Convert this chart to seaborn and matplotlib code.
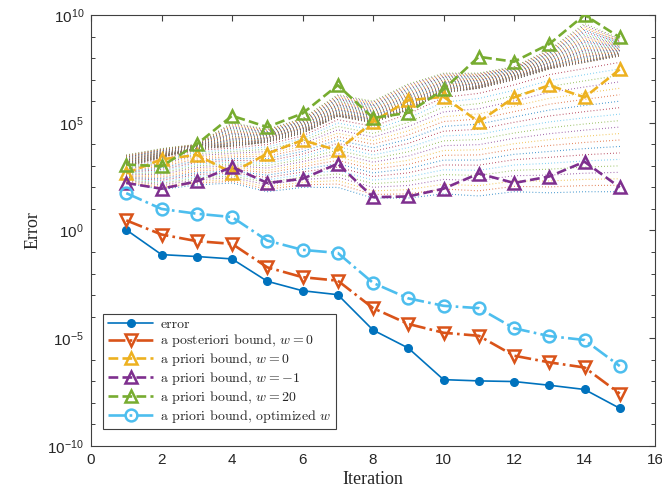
import numpy as np
import pandas as pd
import matplotlib
matplotlib.use("Agg")
import matplotlib.pyplot as plt
from matplotlib.font_manager import FontProperties
from matplotlib.ticker import FixedLocator, NullFormatter
import seaborn as sns

# ---------------------------------------------------------------- data
iterations = list(range(1, 16))

err = [1.07e0, 7.6e-2, 6.2e-2, 4.8e-2, 4.4e-3, 1.6e-3, 1.05e-3, 2.4e-5,
       3.5e-6, 1.2e-7, 1.05e-7, 9.8e-8, 6.6e-8, 4.2e-8, 5.6e-9]
post_w0 = [2.95e0, 6.5e-1, 3.2e-1, 2.4e-1, 1.95e-2, 6.8e-3, 4.7e-3, 2.5e-4,
           4.6e-5, 1.8e-5, 1.3e-5, 1.55e-6, 7.6e-7, 4.4e-7, 2.7e-8]
prior_w0 = [4.5e2, 2.0e3, 3.2e3, 4.8e2, 3.7e3, 1.55e4, 5.2e3, 1.1e5,
            1.1e6, 1.6e6, 1.1e5, 1.5e6, 5.5e6, 1.5e6, 3.0e7]
prior_wm1 = [1.6e2, 8.7e1, 1.9e2, 8.9e2, 1.6e2, 2.5e2, 1.26e3, 3.5e1,
             3.8e1, 8.7e1, 4.4e2, 1.6e2, 3.2e2, 1.55e3, 1.0e2]
prior_w20 = [1.15e3, 9.5e2, 1.0e4, 2.1e5, 6.3e4, 2.7e5, 5.5e6, 1.66e5,
             2.9e5, 3.5e6, 1.15e8, 6.8e7, 4.5e8, 1.0e10, 9.1e8]
prior_opt = [5.4e1, 1.0e1, 6.0e0, 4.2e0, 3.4e-1, 1.26e-1, 9.1e-2, 3.7e-3,
             7.1e-4, 3.2e-4, 2.5e-4, 2.9e-5, 1.26e-5, 8.3e-6, 5.1e-7]

# a priori bounds over the sweep of w: lower edge, dense ridge, upper edge
sweep_low = [1.6e2, 8.0e1, 1.3e2, 1.6e2, 6.3e1, 1.0e2, 1.0e2, 3.2e1,
             3.2e1, 5.0e1, 4.0e1, 6.3e1, 5.6e1, 6.3e1, 6.3e1]
sweep_ridge = [1.0e3, 2.5e3, 6.3e3, 8.0e3, 1.26e4, 3.2e4, 2.0e5, 1.0e5,
               4.0e5, 2.5e6, 4.0e6, 1.0e7, 3.2e7, 6.3e7, 1.26e8]
sweep_high = [3.2e3, 6.3e3, 1.0e4, 1.0e5, 5.0e4, 1.6e5, 2.0e6, 1.0e6,
              6.3e6, 2.0e7, 2.0e7, 4.0e7, 2.5e8, 4.0e9, 8.0e8]

series = [
    ("error", err),
    (r"a posteriori bound, $w=0$", post_w0),
    (r"a priori bound, $w=0$", prior_w0),
    (r"a priori bound, $w=-1$", prior_wm1),
    (r"a priori bound, $w=20$", prior_w20),
    (r"a priori bound, optimized $w$", prior_opt),
]

# ---------------------------------------------------------------- style
sns.set_style("white")
plt.rcParams["font.family"] = ["Liberation Sans", "DejaVu Sans"]
plt.rcParams["mathtext.fontset"] = "custom"
plt.rcParams["mathtext.rm"] = "Liberation Sans"
plt.rcParams["mathtext.it"] = "Liberation Sans:italic"

matlab = ["#0072BD", "#D95319", "#EDB120", "#7E2F8E", "#77AC30", "#4DBEEE", "#A2142F"]
axis_gray = "0.25"

styles = [
    dict(color=matlab[0], marker="o", linestyle="-", lw=1.2, ms=5.5, mfc=matlab[0]),
    dict(color=matlab[1], marker="v", linestyle="-.", lw=1.9, ms=9, mfc="none", mew=1.8),
    dict(color=matlab[2], marker="^", linestyle="--", lw=1.9, ms=9, mfc="none", mew=1.8),
    dict(color=matlab[3], marker="^", linestyle="--", lw=1.9, ms=9, mfc="none", mew=1.8),
    dict(color=matlab[4], marker="^", linestyle="--", lw=1.9, ms=9, mfc="none", mew=1.8),
    dict(color=matlab[5], marker="o", linestyle="-.", lw=1.9, ms=8.5, mfc="none", mew=1.8),
]

fig = plt.figure(figsize=(6.62, 4.96), dpi=100)
ax = fig.add_axes([0.1375, 0.1008, 0.852, 0.869])
ax.set_yscale("log")

# ------------------------------------------------- dotted family of bounds
lo = np.log10(sweep_low)
mid = np.log10(sweep_ridge)
hi = np.log10(sweep_high)
fractions_low = np.linspace(0.0, 1.0, 22)[:-1]
fractions_high = np.linspace(0.0, 1.0, 40) ** 1.8
family = [lo + (mid - lo) * f for f in fractions_low] + \
         [mid + (hi - mid) * f for f in fractions_high]
for k, curve in enumerate(family):
    ax.plot(iterations, 10.0 ** curve, linestyle=(0, (0.6, 2.2)), lw=0.8,
            color=matlab[k % len(matlab)], zorder=1)

# ------------------------------------------------------------ main series
for (label, values), st in zip(series, styles):
    df = pd.DataFrame({"Iteration": iterations, "Error": values})
    sns.lineplot(data=df, x="Iteration", y="Error", ax=ax, label=label,
                 color=st["color"], marker=st["marker"], linestyle=st["linestyle"],
                 linewidth=st["lw"], markersize=st["ms"],
                 markerfacecolor=st["mfc"], markeredgecolor=st["color"],
                 markeredgewidth=st.get("mew", 1.0), zorder=3)

# ------------------------------------------------------------------ axes
ax.set_xlim(0, 16)
ax.set_ylim(1e-10, 1e10)
ax.set_xticks(range(0, 17, 2))
ax.set_xticklabels([str(v) for v in range(0, 17, 2)])
major_y = [1e-10, 1e-5, 1e0, 1e5, 1e10]
ax.yaxis.set_major_locator(FixedLocator(major_y))
ax.set_yticklabels([r"$10^{-10}$", r"$10^{-5}$", r"$10^{0}$", r"$10^{5}$", r"$10^{10}$"])
ax.yaxis.set_minor_locator(FixedLocator([10.0 ** k for k in range(-10, 11) if k % 5]))
ax.yaxis.set_minor_formatter(NullFormatter())

ax.tick_params(axis="both", which="major", direction="in", length=4.5, width=0.8,
               color=axis_gray, labelcolor="0.15", labelsize=11, pad=5,
               top=True, right=True)
ax.tick_params(axis="y", which="minor", direction="in", length=3, width=0.7,
               color=axis_gray, left=True, right=True)
for sp in ax.spines.values():
    sp.set_color(axis_gray)
    sp.set_linewidth(0.8)
    sp.set_visible(True)

serif = ["Liberation Serif", "DejaVu Serif"]
ax.set_xlabel("Iteration", family=serif, fontsize=13, color="0.15", labelpad=3)
ax.set_ylabel("Error", family=serif, fontsize=13, color="0.15", labelpad=4)

legend_font = FontProperties(family="cmr10", math_fontfamily="cm", size=10)
leg = ax.legend(loc="lower left", bbox_to_anchor=(0.022, 0.04), prop=legend_font,
                frameon=True, fancybox=False, framealpha=1.0, edgecolor=axis_gray,
                handlelength=3.3, handletextpad=0.5, borderpad=0.3,
                labelspacing=0.13, borderaxespad=0.0)
leg.get_frame().set_linewidth(0.8)
leg.set_zorder(5)

fig.savefig("out.png", dpi=100)
